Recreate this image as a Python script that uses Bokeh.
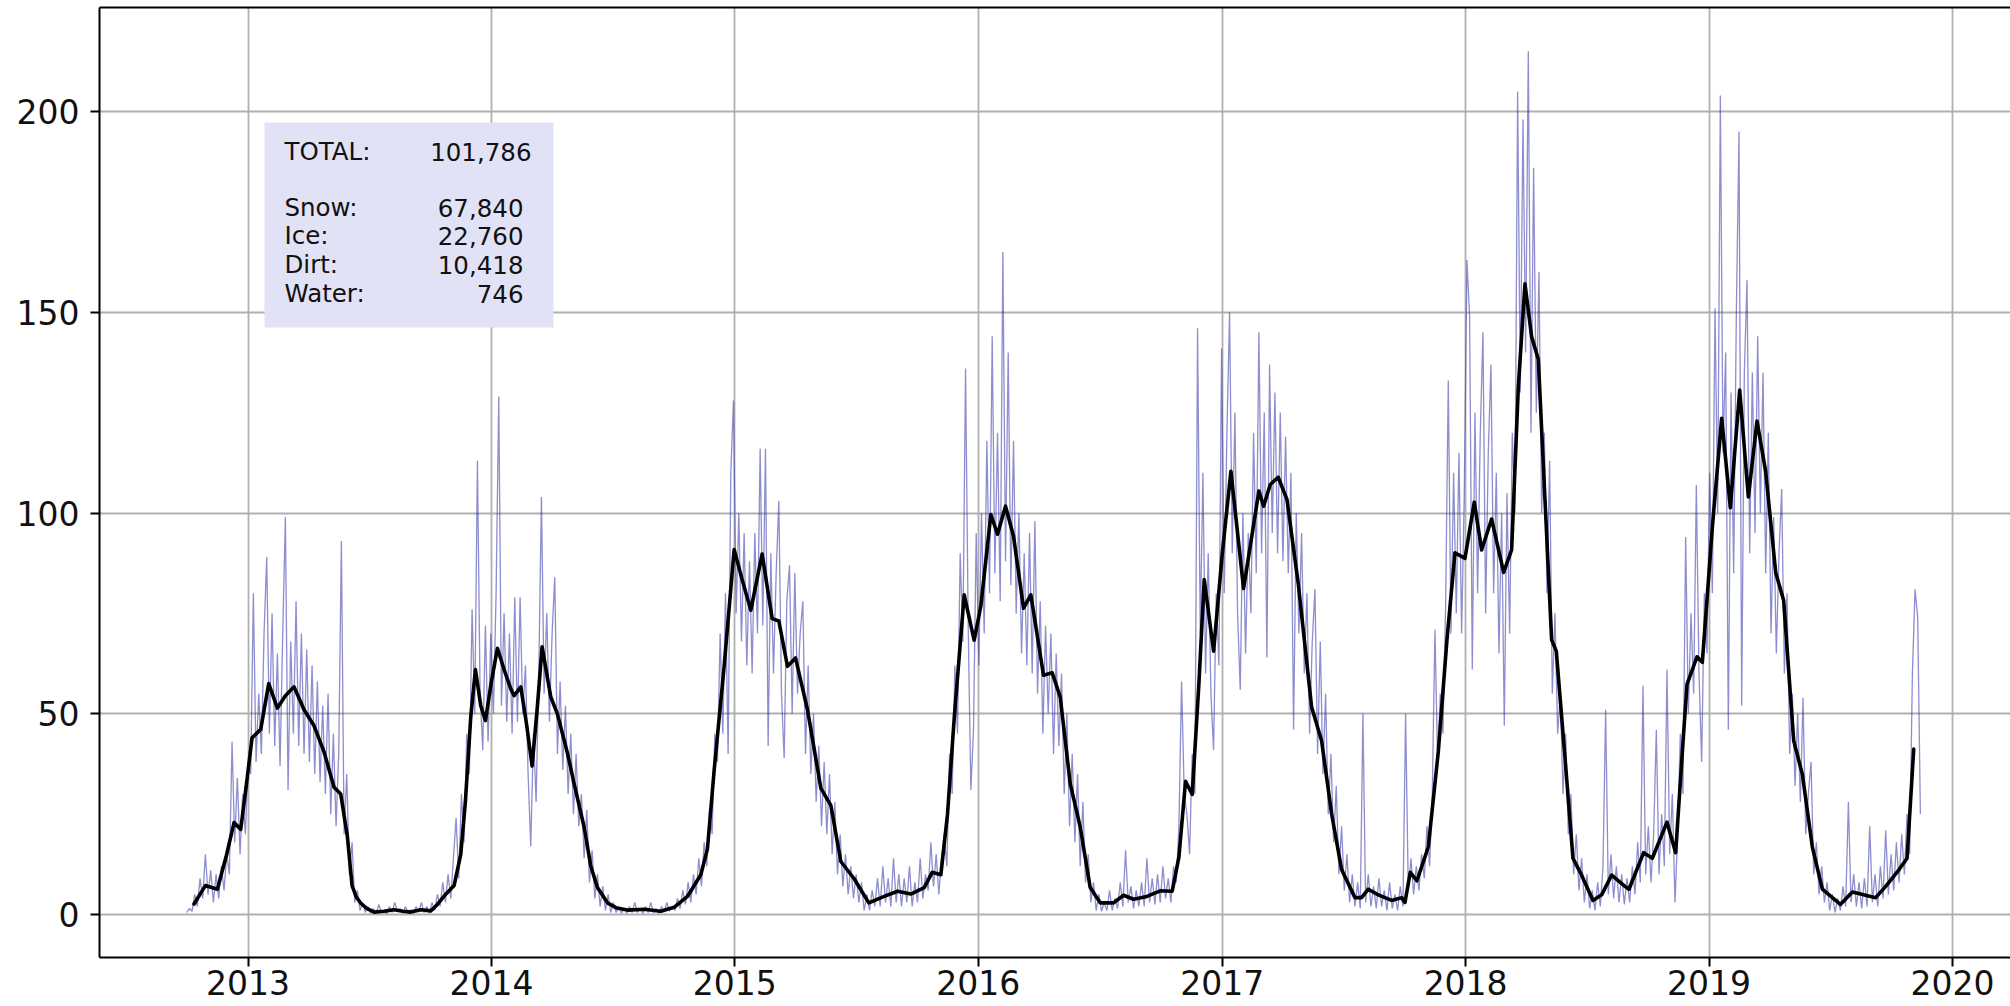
import pandas as pd
from bokeh.plotting import figure
from bokeh.models import (ColumnDataSource, Range1d, FixedTicker, DatetimeTickFormatter,
                          BoxAnnotation, Label, LinearAxis)
from bokeh.embed import file_html
from bokeh.resources import INLINE

# ---------------- data ----------------
START = pd.Timestamp("2012-10-01")

# smoothed series: day offset from START, value
smooth_day = [11, 28, 46, 60, 71, 81, 90, 98, 111, 123, 136, 148, 161, 176, 191, 206, 221, 231, 241, 248,
              254, 261, 270, 281, 296, 311, 324, 336, 351, 366, 376, 386, 401, 411, 418, 426, 433, 441, 448, 457,
              466, 476, 486, 491, 501, 510, 518, 526, 533, 546, 556, 571, 581, 596, 606, 616, 631, 645, 661, 686,
              711, 731, 751, 771, 781, 791, 806, 821, 833, 846, 863, 878, 888, 901, 913, 931, 951, 966, 981, 1001,
              1023, 1046, 1066, 1086, 1106, 1118, 1131, 1141, 1151, 1166, 1181, 1191, 1206, 1216, 1228, 1240, 1255, 1266, 1285, 1298,
              1310, 1325, 1340, 1355, 1370, 1390, 1405, 1420, 1440, 1460, 1478, 1488, 1498, 1508, 1518, 1526, 1540, 1553, 1566, 1585,
              1608, 1615, 1625, 1637, 1650, 1667, 1687, 1702, 1717, 1732, 1752, 1762, 1772, 1787, 1807, 1822, 1827, 1835, 1845, 1862,
              1877, 1890, 1902, 1917, 1931, 1942, 1957, 1975, 1987, 1997, 2007, 2017, 2027, 2037, 2047, 2054, 2067, 2079, 2092, 2109,
              2122, 2137, 2157, 2163, 2185, 2198, 2220, 2233, 2243, 2250, 2265, 2273, 2288, 2302, 2315, 2329, 2342, 2355, 2368, 2383,
              2395, 2410, 2423, 2438, 2453, 2480, 2498, 2533, 2548, 2568, 2580, 2590]
smooth_val = [2.6, 7.2, 6.3, 15, 22.9, 21.2, 33, 44, 46.1, 57.5, 51.4, 54.5, 56.7, 51, 47, 40.5, 31.7, 30, 19.4, 7.2,
              4.5, 2.8, 1.5, 0.6, 0.8, 1.2, 0.8, 0.6, 1.2, 0.9, 2.5, 4.6, 7.2, 15, 28.2, 49.2, 61, 52, 48.3, 58,
              66.3, 61, 56.2, 54.5, 56.7, 47, 37, 52, 66.7, 54.2, 49.9, 40.2, 32.6, 21.8, 12.1, 6.7, 2.9, 1.6, 1.1, 1.3,
              0.8, 1.8, 4.5, 9.9, 16.4, 35.9, 61.8, 90.9, 83.4, 75.8, 89.8, 73.7, 73.1, 61.8, 63.9, 51, 31.5, 27.2, 13.2, 8.9,
              2.9, 4.5, 5.8, 5.1, 6.7, 10.5, 9.9, 25, 48.8, 79.6, 68.3, 76.9, 99.6, 94.7, 101.7, 94.2, 76.3, 79.6, 59.6, 60.2,
              54.2, 32.6, 21.8, 6.7, 2.9, 2.9, 4.8, 3.8, 4.5, 5.9, 5.8, 14.3, 33.2, 29.9, 57.5, 83.4, 65.6, 89.8, 110.4, 81.2,
              105.5, 101.7, 107.1, 108.9, 103.4, 82.4, 51.7, 43.3, 25.1, 11.2, 4.2, 4.2, 6.3, 4.9, 3.5, 4.2, 3, 10.5, 8.4, 16.8,
              40.5, 68.4, 90.1, 88.7, 102.7, 90.8, 98.5, 85.2, 90.8, 131.3, 157.1, 143.9, 138.3, 103.4, 68.4, 65.6, 39.1, 14, 9.8, 3.5,
              4.9, 9.8, 7, 6.3, 15.4, 14, 23, 15.4, 40.5, 57.3, 64.2, 62.8, 96.4, 123.6, 101.3, 130.6, 104, 122.9, 110.3, 85.2,
              78.2, 43.3, 34.9, 16.8, 6.3, 2.5, 5.6, 4.2, 7, 11.2, 14, 41.2]

# raw series, sampled every NOISE_STEP days; each season list starts at its noise_first_day
NOISE_STEP = 4
noise_first_day = [0, 100, 260, 404, 544, 800, 1072, 1364, 1504, 1752, 1892, 2096, 2244, 2460]
noise_a = [0.5, 1.5, 0.8, 5, 2, 9, 4, 15, 5, 11, 3, 10, 4, 12, 6, 15, 10, 43, 18, 34, 15, 30, 20, 38, 35]
noise_b = [80, 38, 55, 40, 70, 89, 45, 75, 42, 65, 37, 70, 99, 31, 68, 45, 78, 42, 70, 40,
           66, 38, 62, 35, 58, 33, 52, 30, 55, 25, 45, 22, 40, 93, 20, 35, 10, 18, 3, 6]
noise_c = [1, 3, 0.5, 2, 0.3, 1.5, 0.2, 2.5, 0.5, 1, 0.2, 2, 0.5, 3, 0.8, 1.5, 0.3, 2, 0.5, 1.2,
           0.3, 2, 0.6, 3, 0.5, 2, 0.4, 3, 1, 5, 2, 8, 3, 10, 4, 14]
noise_d = [24, 9, 30, 18, 45, 35, 76, 50, 113, 55, 41, 72, 43, 70, 50, 80, 129, 52, 75, 48,
           70, 45, 79, 48, 79, 50, 62, 35, 17, 45, 28, 60, 104, 55, 75]
noise_e = [48, 70, 84, 40, 58, 36, 52, 30, 45, 25, 40, 22, 30, 14, 26, 8, 16, 4, 10, 2,
           7, 1, 5, 0.5, 3, 0.5, 2, 0.3, 1.5, 0.3, 2, 0.5, 3, 0.5, 1.5, 0.3, 2, 0.5, 3, 0.4,
           1.5, 0.3, 2, 0.6, 3, 0.8, 2, 1, 4, 1.5, 6, 2.5, 8, 3, 10, 5, 14, 7, 18, 12,
           26, 20, 45, 38]
noise_f = [70, 45, 80, 40, 110, 128, 75, 100, 68, 95, 62, 88, 60, 95, 70, 116, 72, 116, 42, 90,
           60, 85, 103, 55, 39, 78, 87, 50, 85, 55, 70, 78, 40, 62, 35, 50, 28, 42, 22, 38,
           20, 35, 15, 28, 10, 20, 7, 15, 5, 12, 4, 10, 3, 8, 1, 5, 1, 6, 2, 9,
           2, 12, 3, 9, 2, 14, 3, 10]
noise_g = [2, 9, 3, 12, 2, 8, 3, 14, 4, 10, 6, 18, 7, 15, 5, 14, 20, 12, 40, 30,
           62, 45, 90, 68, 136, 72, 31, 46, 95, 62, 100, 70, 118, 80, 144, 85, 120, 78, 165, 88,
           140, 82, 118, 75, 100, 65, 90, 62, 95, 60, 98, 55, 78, 45, 72, 50, 70, 40, 65, 42,
           60, 30, 50, 22, 40, 18, 35, 12, 28, 8, 15, 3, 8]
noise_h = [1, 5, 0.8, 3, 1, 6, 1, 4, 1.5, 8, 2, 16, 3, 7, 1.5, 6, 2, 8, 2, 14,
           3, 9, 2.5, 10, 3, 12, 4, 9, 3, 12, 8, 22, 58, 30, 25]
noise_i = [15, 40, 30, 146, 70, 110, 60, 90, 55, 41, 80, 62, 141, 80, 120, 150, 90, 125, 75, 56,
           100, 65, 95, 75, 120, 85, 145, 90, 125, 64, 137, 95, 130, 90, 125, 88, 119, 85, 110, 46,
           100, 70, 95, 60, 80, 45, 68, 81, 40, 68, 35, 55, 25, 40, 18, 32, 10, 22, 6, 15,
           3, 10]
noise_j = [2, 8, 1.5, 50, 3, 10, 2, 7, 1.5, 9, 2, 6, 1, 8, 1.5, 5, 1, 7, 2, 50,
           6, 14, 5, 12, 6, 15, 9, 22, 12, 30, 71, 38, 55, 45, 77]
noise_k = [133, 70, 110, 75, 115, 70, 105, 163, 149, 61, 125, 80, 120, 145, 75, 115, 137, 80, 110, 65,
           100, 47, 105, 70, 120, 100, 205, 130, 198, 140, 215, 120, 186, 125, 160, 100, 120, 80, 113, 55,
           75, 45, 55, 30, 45, 20, 30, 10, 20, 6, 14]
noise_l = [3, 10, 1.5, 6, 1, 8, 2, 12, 51, 5, 15, 4, 12, 3, 10, 2.5, 9, 3, 12, 5,
           18, 8, 57, 10, 22, 8, 20, 46, 10, 25, 12, 61, 15, 30, 3, 20, 45]
noise_m = [30, 94, 50, 75, 55, 107, 60, 38, 80, 65, 110, 80, 151, 100, 204, 115, 140, 46, 130, 85,
           150, 195, 52, 135, 158, 90, 135, 95, 144, 100, 135, 85, 120, 70, 99, 65, 90, 106, 60, 80,
           40, 55, 32, 50, 28, 54, 20, 30, 38, 10, 18, 5, 12, 3]
noise_n = [8, 1, 5, 0.5, 4, 1, 7, 2, 28, 3, 10, 2, 8, 1.5, 9, 2, 22, 3, 10, 2,
           12, 4, 21, 5, 15, 6, 18, 8, 20, 10, 25, 15, 60, 81, 74, 25]
noise_seasons = [noise_a, noise_b, noise_c, noise_d, noise_e, noise_f, noise_g,
                 noise_h, noise_i, noise_j, noise_k, noise_l, noise_m, noise_n]

summary_labels = ["TOTAL:", "Snow:", "Ice:", "Dirt:", "Water:"]
summary_values = [101786, 67840, 22760, 10418, 746]

year_ticks = [2013, 2014, 2015, 2016, 2017, 2018, 2019, 2020]
y_ticks = [0, 50, 100, 150, 200]

# ---------------- layout helpers (pixel calibration of the frame) ----------------
PX_START = 186.2      # canvas px where START sits
PX_PER_DAY = 0.6668
Y0_PX = 914.0         # canvas px of value 0
PX_PER_UNIT = 4.015
EPOCH = pd.Timestamp("1970-01-01")

W, H = 2010, 1006
FRAME_L, FRAME_R, FRAME_T, FRAME_B = 99, 2010, 7, 957


def px_to_ts(px):
    return START + pd.Timedelta(days=(px - PX_START) / PX_PER_DAY)


def px_to_ms(px):
    return (px_to_ts(px) - EPOCH) / pd.Timedelta(milliseconds=1)


def py_to_val(py):
    return (Y0_PX - py) / PX_PER_UNIT


# ---------------- sources ----------------
smooth_src = ColumnDataSource(dict(
    x=[START + pd.Timedelta(days=d) for d in smooth_day], y=smooth_val))

nx, ny = [], []
for first, vals in zip(noise_first_day, noise_seasons):
    for i, v in enumerate(vals):
        nx.append(START + pd.Timedelta(days=first + NOISE_STEP * i))
        ny.append(v)
noise_src = ColumnDataSource(dict(x=nx, y=ny))

# ---------------- figure ----------------
FONT = "DejaVu Sans"
p = figure(width=W, height=H, x_axis_type="datetime",
           x_range=Range1d(px_to_ts(FRAME_L).to_pydatetime(), px_to_ts(FRAME_R).to_pydatetime()),
           y_range=Range1d(py_to_val(FRAME_B), py_to_val(FRAME_T)),
           output_backend="svg", toolbar_location=None,
           min_border_left=FRAME_L, min_border_right=W - FRAME_R,
           min_border_top=FRAME_T, min_border_bottom=H - FRAME_B)
p.outline_line_color = None
p.background_fill_color = "white"
p.border_fill_color = "white"

p.line("x", "y", source=noise_src, line_color="#2f2fa8", line_alpha=0.55, line_width=1.3)
p.line("x", "y", source=smooth_src, line_color="black", line_width=3.6,
       line_join="round", line_cap="round")

# axes
xt = FixedTicker(ticks=[(pd.Timestamp(f"{y}-01-01") - EPOCH) / pd.Timedelta(milliseconds=1) for y in year_ticks])
p.xaxis.ticker = xt
p.xaxis.formatter = DatetimeTickFormatter(years="%Y", months="%Y", days="%Y", hours="%Y")
p.yaxis.ticker = FixedTicker(ticks=y_ticks)
for ax in (p.xaxis[0], p.yaxis[0]):
    ax.major_label_text_font = FONT
    ax.major_label_text_font_size = "33px"
    ax.major_label_text_color = "#111111"
    ax.axis_line_color = "black"
    ax.axis_line_width = 2
    ax.major_tick_line_color = "black"
    ax.major_tick_line_width = 2
    ax.major_tick_in = 0
    ax.major_tick_out = 9
    ax.minor_tick_line_color = None
p.xaxis.major_label_standoff = 3
p.yaxis.major_label_standoff = 11

top = LinearAxis(ticker=FixedTicker(ticks=[]), major_label_text_font_size="0px",
                 major_tick_out=0, major_tick_in=0, minor_tick_out=0, minor_tick_in=0,
                 major_label_standoff=0, axis_line_width=2, axis_line_color="black")
p.add_layout(top, "above")

p.xgrid.grid_line_color = "#b0b0b0"
p.ygrid.grid_line_color = "#b0b0b0"
p.xgrid.grid_line_width = 1.8
p.ygrid.grid_line_width = 1.8

# summary box
p.add_layout(BoxAnnotation(left=px_to_ms(264), right=px_to_ms(553),
                           top=py_to_val(122), bottom=py_to_val(327),
                           fill_color="#e2e2f7", fill_alpha=1.0, line_color=None, level="annotation"))
baselines = [151, 207, 235, 264, 293]
value_right = [531, 523, 523, 523, 523]
for lab, val, by, vr in zip(summary_labels, summary_values, baselines, value_right):
    p.add_layout(Label(x=px_to_ms(284), y=py_to_val(by), text=lab, text_align="left",
                       text_baseline="alphabetic", text_font=FONT, text_font_size="24.5px",
                       text_color="#111111"))
    p.add_layout(Label(x=px_to_ms(vr), y=py_to_val(by), text=f"{val:,}", text_align="right",
                       text_baseline="alphabetic", text_font=FONT, text_font_size="24.5px",
                       text_color="#111111"))

open("out.html", "w").write(file_html(p, INLINE))
